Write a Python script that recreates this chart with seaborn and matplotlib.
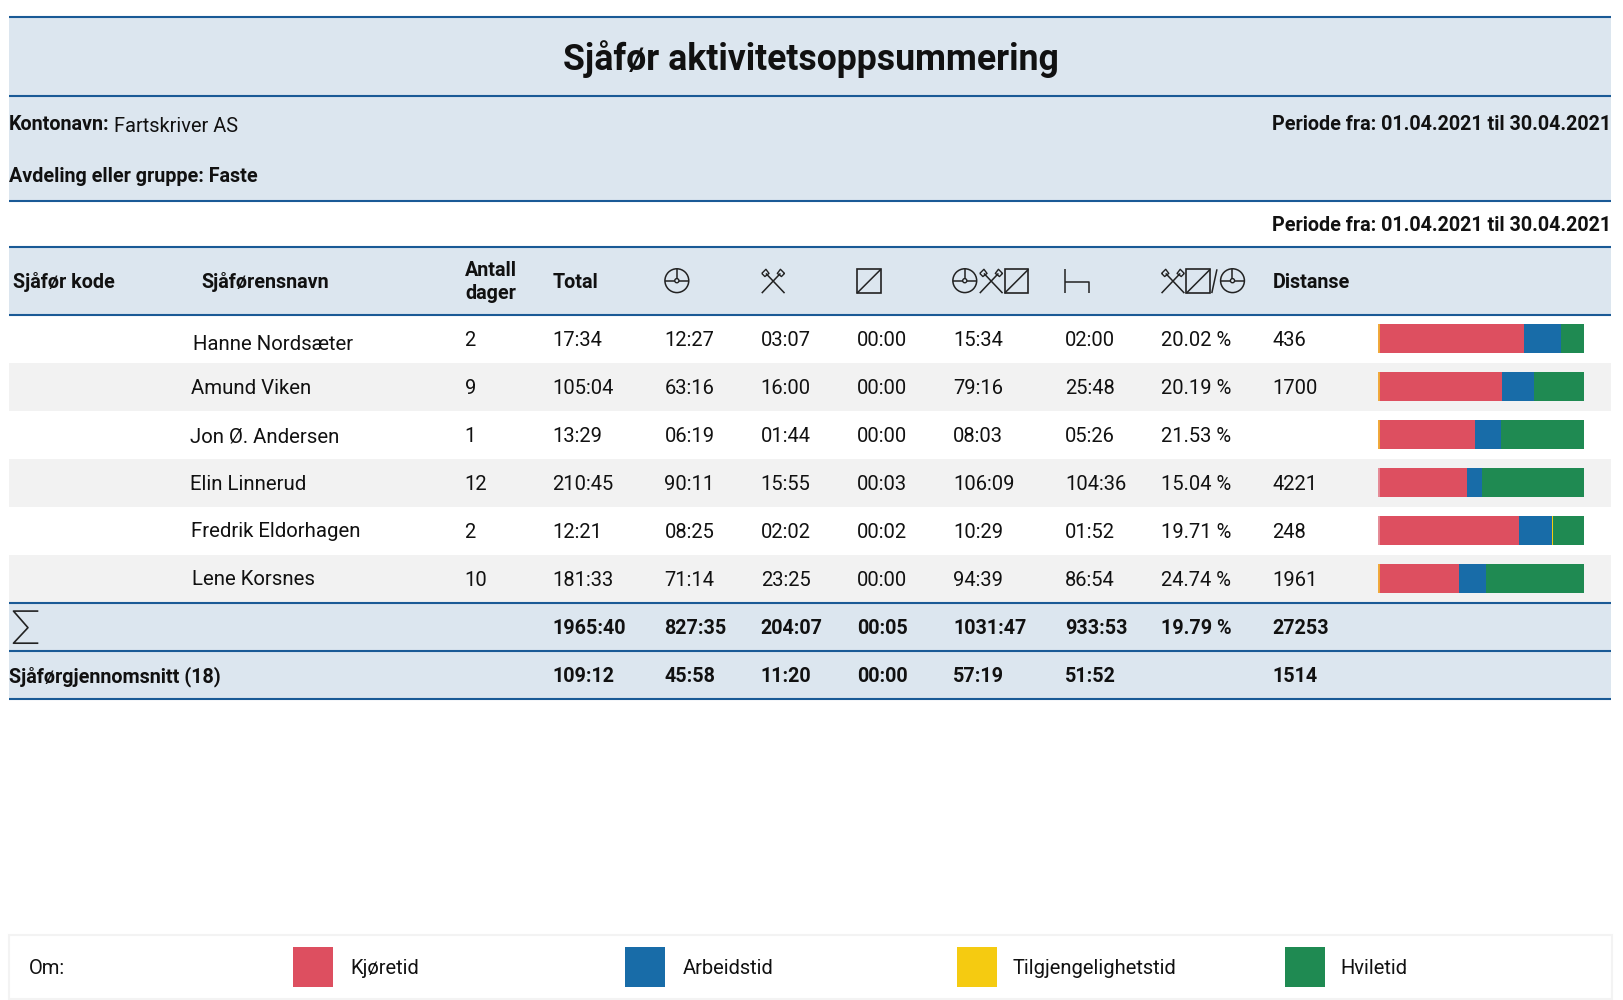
import pandas as pd
import seaborn as sns
import matplotlib.pyplot as plt
from matplotlib.patches import Rectangle, Circle

# table values
names = ['Hanne Nordsæter', 'Amund Viken', 'Jon Ø. Andersen', 'Elin Linnerud', 'Fredrik Eldorhagen', 'Lene Korsnes']
days = ['2', '9', '1', '12', '2', '10']
total = ['17:34', '105:04', '13:29', '210:45', '12:21', '181:33']
driving = ['12:27', '63:16', '06:19', '90:11', '08:25', '71:14']
work = ['03:07', '16:00', '01:44', '15:55', '02:02', '23:25']
avail = ['00:00', '00:00', '00:00', '00:03', '00:02', '00:00']
combined = ['15:34', '79:16', '08:03', '106:09', '10:29', '94:39']
rest = ['02:00', '25:48', '05:26', '104:36', '01:52', '86:54']
ratio = ['20.02 %', '20.19 %', '21.53 %', '15.04 %', '19.71 %', '24.74 %']
distance = ['436', '1700', '', '4221', '248', '1961']
sum_row = ['1965:40', '827:35', '204:07', '00:05', '1031:47', '933:53', '19.79 %', '27253']
avg_row = ['109:12', '45:58', '11:20', '00:00', '57:19', '51:52', '', '1514']
legend_labels = ['Kjøretid', 'Arbeidstid', 'Tilgjengelighetstid', 'Hviletid']

BAND = '#dce6ef'
LINE = '#1a5a96'
GREY = '#f2f2f2'
RED = '#dd4f60'
BLUE = '#186ca8'
YELLOW = '#f5cb11'
GREEN = '#1f8a52'
INK = '#111111'

sns.set_style('white')
plt.rcParams['font.family'] = ['Roboto', 'DejaVu Sans']


def minutes(s):
    h, m = s.split(':')
    return int(h) * 60 + int(m)


fig = plt.figure(figsize=(16.24, 10), dpi=100)
ax = fig.add_axes([0, 0, 1, 1])
ax.set_xlim(0, 1568)
ax.set_ylim(965.5, 0)
ax.axis('off')

# background bands
L, R = 9, 1555.5
for top, bottom, col in [(16, 93, BAND), (93, 194, BAND), (238, 304, BAND), (350, 396.5, GREY),
                         (443, 489.5, GREY), (536, 582, GREY), (582, 629, BAND), (629, 675, BAND)]:
    ax.add_patch(Rectangle((L, top), R - L, bottom - top, fc=col, ec='none'))
for y in [16, 93, 194, 238, 304, 582, 629, 675]:
    ax.plot([L, R], [y, y], color=LINE, lw=1.5, solid_capstyle='butt')

FS = 14.2
FS_REG = 14.5


def put(x, y, s, bold=False, size=None, ha='left'):
    if size is None:
        size = FS if bold else FS_REG
    ax.text(x, y, s, fontsize=size, fontweight='bold' if bold else 'normal', color=INK, ha=ha, va='baseline')


put(783, 67.5, 'Sjåfør aktivitetsoppsummering', True, 25.7, 'center')
put(8.5, 125.5, 'Kontonavn:', True)
put(110, 127, 'Fartskriver AS', size=14.4)
put(1556, 125.5, 'Periode fra: 01.04.2021 til 30.04.2021', True, ha='right')
put(9, 176, 'Avdeling eller gruppe: Faste', True)
put(1556, 223, 'Periode fra: 01.04.2021 til 30.04.2021', True, ha='right')

# header row
put(13, 278, 'Sjåfør kode', True)
put(194, 278, 'Sjåførensnavn', True)
put(449, 266, 'Antall', True)
put(449, 289, 'dager', True)
put(534, 278, 'Total', True)
put(1229, 278, 'Distanse', True)


def seg(xs, ys, lw=1.1):
    ax.plot(xs, ys, color='#222222', lw=lw, solid_capstyle='butt')


def wheel(cx, cy, r=11.5):
    ax.add_patch(Circle((cx, cy), r, fc='none', ec='#222222', lw=1.1))
    ax.add_patch(Circle((cx, cy), 2, fc='none', ec='#222222', lw=1))
    seg([cx, cx], [cy - r, cy - 2])
    seg([cx - r, cx - 2], [cy, cy])
    seg([cx + 2, cx + r], [cy, cy])


def hammers(x, top=260, bottom=283, w=24):
    seg([x + 1, x + w - 5], [bottom, top + 4])
    seg([x + w - 1, x + 5], [bottom, top + 4])
    seg([x + 1, x + 5, x + 8, x + 4, x + 1], [top + 4, top, top + 4, top + 7, top + 4], 1)
    seg([x + w - 1, x + w - 5, x + w - 8, x + w - 4, x + w - 1], [top + 4, top, top + 4, top + 7, top + 4], 1)


def box(x, top=260, bottom=283, w=23):
    ax.add_patch(Rectangle((x, top), w, bottom - top, fc='none', ec='#222222', lw=1.2))
    seg([x, x + w], [bottom, top])


def bed(x, top=260, bottom=283, w=23):
    seg([x, x], [top, bottom])
    seg([x, x + w, x + w], [272, 272, bottom])


wheel(653.5, 271)
hammers(734.5)
box(827.5)
wheel(931.5, 271)
hammers(945)
box(970)
bed(1028.5)
hammers(1120.5)
box(1145.5)
seg([1170, 1175], [283, 260])
wheel(1190, 271)

# sigma symbol
seg([37, 13, 27, 13, 37], [590, 590, 606, 621, 621], 1.2)

# data rows
cols = [448.5, 533.5, 641.5, 734.5, 827.5, 920.5, 1028.5, 1120.5, 1228.5]
name_x = [186.5, 184.5, 183.5, 183.5, 184.5, 185.5]
name_y = [337.5, 380, 427, 473.5, 518.5, 564.5]
base_y = [334, 380.5, 427, 473, 519, 566]
for i in range(len(names)):
    put(name_x[i], name_y[i], names[i], size=14.7)
    row = [days[i], total[i], driving[i], work[i], avail[i], combined[i], rest[i], ratio[i], distance[i]]
    for x, s in zip(cols, row):
        put(x, base_y[i], s)

# summary rows
put(9, 658.5, 'Sjåførgjennomsnitt (18)', True)
for x, a, b in zip(cols[1:], sum_row, avg_row):
    put(x, 612, a, True)
    put(x, 658.5, b, True)

# stacked bars, drawn back to front on their own axes
d = pd.DataFrame({'name': names, 'driving': [minutes(s) for s in driving], 'work': [minutes(s) for s in work],
                  'avail': [minutes(s) for s in avail], 'rest': [minutes(s) for s in rest]})
parts = d[['driving', 'work', 'avail', 'rest']].cumsum(axis=1)
parts = parts.div(parts['rest'], axis=0)

x0, x1, y0, y1 = 1331, 1529.5, 303.5, 581.5
bar_ax = fig.add_axes([x0 / 1568, 1 - y1 / 965.5, (x1 - x0) / 1568, (y1 - y0) / 965.5])
bar_ax.patch.set_alpha(0)
for col, colour in [('rest', GREEN), ('avail', YELLOW), ('work', BLUE), ('driving', RED)]:
    sns.barplot(x=parts[col].values, y=d['name'], color=colour, width=0.6, saturation=1, orient='h',
                linewidth=0, ax=bar_ax)
# thin strip on the left edge of each bar
for i, m in enumerate(d['avail']):
    bar_ax.plot([0, 0], [i - 0.3, i + 0.3], color='#f0a838' if m == 0 else '#e58a96', lw=1.4,
                solid_capstyle='butt', clip_on=False)
bar_ax.set_xlim(0, 1)
bar_ax.set_ylim(5.5, -0.5)
bar_ax.axis('off')

# legend box
ax.add_patch(Rectangle((9, 903), 1547.5, 61.5, fc='white', ec='#f3f3f3', lw=1.5))
put(28, 940, 'Om:')
for x, tx, colour, label in zip([283, 603.5, 924, 1241], [338.5, 659.5, 978, 1294.5], [RED, BLUE, YELLOW, GREEN], legend_labels):
    ax.add_patch(Rectangle((x, 914.5), 38.5, 38.5, fc=colour, ec='none'))
    put(tx, 940, label)

fig.savefig('out.png', dpi=100)
